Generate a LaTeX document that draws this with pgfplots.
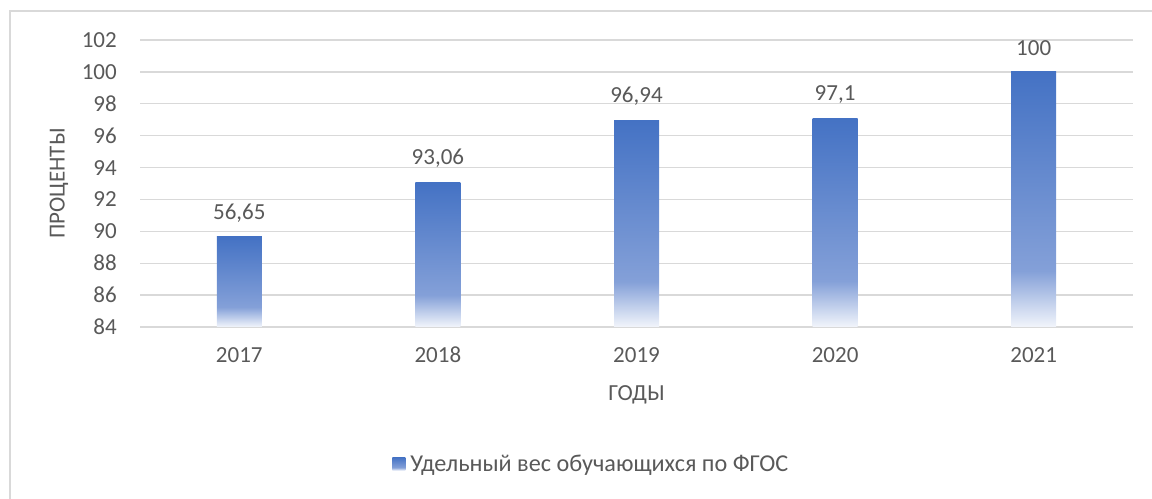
\documentclass[border=0pt]{standalone}
\usepackage{pgfplots}
\pgfplotsset{compat=1.18}
\usepackage{fontspec}
\setmainfont{Carlito}
\definecolor{txt}{HTML}{595959}
\definecolor{gridc}{HTML}{D9D9D9}
\definecolor{bt}{HTML}{4472C4}
\definecolor{bm}{HTML}{84A0D8}
\definecolor{bw}{HTML}{F2F5FB}
\pgfdeclareverticalshading{barshade}{100bp}{color(0bp)=(bw); color(25bp)=(bw); color(36bp)=(bm); color(75bp)=(bt); color(100bp)=(bt)}
\newcommand\cf{\fontsize{23bp}{28bp}\selectfont}
\begin{document}
\begin{tikzpicture}
\useasboundingbox (0,0) rectangle (1152bp,499bp);
\draw[gridc, line width=1.5bp] (10bp,0) -- (10bp,488bp) -- (1152bp,488bp);
\begin{axis}[
  at={(140bp,172bp)}, anchor=south west,
  scale only axis, width=993bp, height=287bp,
  xmin=-0.5, xmax=4.5, ymin=84, ymax=102,
  y coord trafo/.code={\pgfmathparse{#1-84}},
  y coord inv trafo/.code={\pgfmathparse{#1+84}},
  xtick={0,1,2,3,4}, xticklabels={2017,2018,2019,2020,2021},
  ytick={84,86,88,90,92,94,96,98,100,102},
  yticklabels={84,86,88,90,92,94,96,98,100,102},
  major tick length=0pt,
  ymajorgrids, grid style={gridc, line width=1.3bp},
  axis line style={draw=none},
  tick label style={font=\cf, text=txt, inner sep=0pt},
  xticklabel style={anchor=center, yshift=-28bp},
  yticklabel style={anchor=east, xshift=-23bp},
  xlabel={ГОДЫ}, ylabel={ПРОЦЕНТЫ},
  label style={font=\cf, text=txt, inner sep=0pt},
  xlabel style={at={(axis description cs:0.5,-0.2369)}, anchor=center},
  ylabel style={at={(axis description cs:-0.0816,0.5)}, anchor=center},
  legend style={at={(axis description cs:0.456,-0.477)}, anchor=center, draw=none, fill=none,
    font=\fontsize{24.2bp}{28bp}\selectfont, text=txt,
    nodes={inner xsep=5bp}},
  legend image code/.code={\shade[shading=barshade] (0bp,-6.5bp) rectangle (13bp,6.5bp);},
  barsty/.style={ybar, bar width=45bp, draw=none, shading=barshade,
    nodes near coords, point meta=explicit symbolic,
    nodes near coords align={center},
    nodes near coords style={font=\cf, text=txt, anchor=center, yshift=24bp, inner sep=0pt}},
]
\addplot[barsty] table[x=x, y=y, meta=lab] {
x y lab
0 89.65 56,65
};
\addlegendentry{Удельный вес обучающихся по ФГОС}
\addplot[barsty] table[x=x, y=y, meta=lab] {
x y lab
1 93.06 93,06
};
\addplot[barsty] table[x=x, y=y, meta=lab] {
x y lab
2 96.94 96,94
};
\addplot[barsty] table[x=x, y=y, meta=lab] {
x y lab
3 97.1 97,1
};
\addplot[barsty] table[x=x, y=y, meta=lab] {
x y lab
4 100 100
};
\end{axis}
\end{tikzpicture}
\end{document}
